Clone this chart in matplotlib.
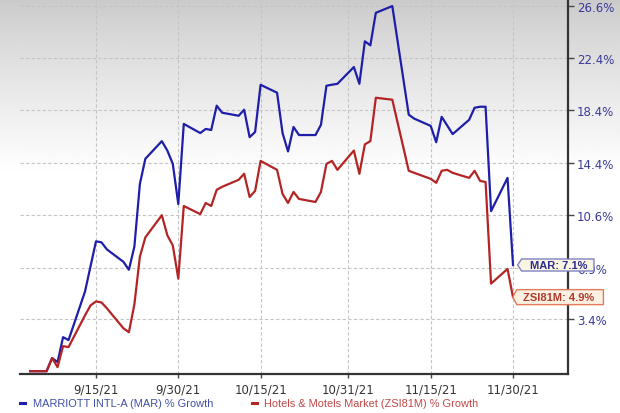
import numpy as np
import pandas as pd
import matplotlib
matplotlib.use("Agg")
import matplotlib.pyplot as plt
from matplotlib.path import Path
from matplotlib.lines import Line2D

# ---------------- data ----------------
mar_dates = ["2021-09-03", "2021-09-06", "2021-09-07", "2021-09-08", "2021-09-09", "2021-09-10",
             "2021-09-13", "2021-09-15", "2021-09-16", "2021-09-17", "2021-09-20", "2021-09-21",
             "2021-09-22", "2021-09-23", "2021-09-24", "2021-09-27", "2021-09-28", "2021-09-29",
             "2021-09-30", "2021-10-01", "2021-10-04", "2021-10-05", "2021-10-06", "2021-10-07",
             "2021-10-08", "2021-10-11", "2021-10-12", "2021-10-13", "2021-10-14", "2021-10-15",
             "2021-10-18", "2021-10-19", "2021-10-20", "2021-10-21", "2021-10-22", "2021-10-25",
             "2021-10-26", "2021-10-27", "2021-10-28", "2021-10-29", "2021-11-01", "2021-11-02",
             "2021-11-03", "2021-11-04", "2021-11-05", "2021-11-08", "2021-11-11", "2021-11-12",
             "2021-11-15", "2021-11-16", "2021-11-17", "2021-11-19", "2021-11-22", "2021-11-23",
             "2021-11-24", "2021-11-25", "2021-11-26", "2021-11-29", "2021-11-30"]
mar_growth = [0.0, 0.0, 0.85, 0.59, 2.22, 2.03,
              5.28, 8.75, 8.68, 8.18, 7.32, 6.77,
              8.39, 12.86, 14.71, 16.02, 15.32, 14.33,
              11.40, 17.32, 16.63, 16.94, 16.86, 18.71,
              18.17, 17.94, 18.40, 16.32, 16.71, 20.32,
              19.71, 16.63, 15.25, 17.09, 16.48, 16.48,
              17.25, 20.25, 20.33, 20.40, 21.71, 20.40,
              23.75, 23.43, 26.05, 26.60, 18.02, 17.72,
              17.17, 15.94, 17.86, 16.55, 17.63, 18.55,
              18.63, 18.63, 10.89, 13.30, 7.10]

zsi_dates = ["2021-09-03", "2021-09-06", "2021-09-07", "2021-09-08", "2021-09-09", "2021-09-10",
             "2021-09-13", "2021-09-14", "2021-09-15", "2021-09-16", "2021-09-17", "2021-09-20",
             "2021-09-21", "2021-09-22", "2021-09-23", "2021-09-24", "2021-09-27", "2021-09-28",
             "2021-09-29", "2021-09-30", "2021-10-01", "2021-10-04", "2021-10-05", "2021-10-06",
             "2021-10-07", "2021-10-08", "2021-10-11", "2021-10-12", "2021-10-13", "2021-10-14",
             "2021-10-15", "2021-10-18", "2021-10-19", "2021-10-20", "2021-10-21", "2021-10-22",
             "2021-10-25", "2021-10-26", "2021-10-27", "2021-10-28", "2021-10-29", "2021-11-01",
             "2021-11-02", "2021-11-03", "2021-11-04", "2021-11-05", "2021-11-08", "2021-11-11",
             "2021-11-12", "2021-11-15", "2021-11-16", "2021-11-17", "2021-11-18", "2021-11-19",
             "2021-11-22", "2021-11-23", "2021-11-24", "2021-11-25", "2021-11-26", "2021-11-29",
             "2021-11-30"]
zsi_growth = [0.0, 0.0, 0.85, 0.26, 1.63, 1.57,
              3.67, 4.34, 4.61, 4.54, 4.14, 2.81,
              2.55, 4.41, 7.68, 9.03, 10.60, 9.18,
              8.46, 6.16, 11.26, 10.68, 11.48, 11.26,
              12.43, 12.65, 13.16, 13.60, 11.91, 12.35,
              14.55, 13.89, 12.13, 11.48, 12.28, 11.77,
              11.55, 12.28, 14.33, 14.55, 13.89, 15.32,
              13.60, 15.78, 16.02, 19.32, 19.17, 13.82,
              13.67, 13.23, 12.94, 13.82, 13.89, 13.67,
              13.30, 13.82, 13.08, 13.00, 5.82, 6.83,
              4.90]

y_ticks = [3.4, 6.9, 10.6, 14.4, 18.4, 22.4, 26.6]
y_tick_labels = ["3.4%", "6.9%", "10.6%", "14.4%", "18.4%", "22.4%", "26.6%"]
x_ticks = ["2021-09-15", "2021-09-30", "2021-10-15", "2021-10-31", "2021-11-15", "2021-11-30"]
x_tick_labels = ["9/15/21", "9/30/21", "10/15/21", "10/31/21", "11/15/21", "11/30/21"]
series_names = ["MARRIOTT INTL-A (MAR) % Growth", "Hotels & Motels Market (ZSI81M) % Growth"]
end_labels = ["MAR: 7.1%", "ZSI81M: 4.9%"]

# ---------------- style ----------------
BLUE = "#1e1ea8"
RED = "#b32424"
W, H = 620, 414
AX_BOTTOM = 374.5  # pixel row of the x axis line

fig = plt.figure(figsize=(W / 100, H / 100), dpi=100)

# background gradient (gray at top fading to white)
bg = fig.add_axes([0, 0, 1, 1], zorder=-5)
rows = np.arange(H)
vals = np.clip(0.79 + 0.21 * (rows / 175.0) ** 0.85, 0, 1)
grad = np.repeat(vals[:, None], 2, axis=1)
bg.imshow(grad, cmap="gray", vmin=0, vmax=1, aspect="auto", extent=[0, 1, 0, 1],
          interpolation="bilinear")
bg.set_axis_off()

rect = [20 / W, (H - AX_BOTTOM) / H, 548 / W, AX_BOTTOM / H]
ax = fig.add_axes(rect)
ax.set_facecolor("none")

ax.set_yscale("function", functions=(lambda v: np.log1p(np.asarray(v) / 100.0),
                                     lambda v: np.expm1(np.asarray(v)) * 100.0))

md = pd.to_datetime(mar_dates)
zd = pd.to_datetime(zsi_dates)
ax.plot(md, mar_growth, color=BLUE, lw=1.6, solid_joinstyle="round", zorder=3)
ax.plot(zd, zsi_growth, color=RED, lw=1.6, solid_joinstyle="round", zorder=3)

ax.set_ylim(-0.15, 27.18)
ax.set_xlim(pd.Timestamp("2021-09-01 03:40"), pd.Timestamp("2021-12-10 00:30"))

ax.yaxis.tick_right()
ax.set_yticks(y_ticks)
ax.set_yticklabels(y_tick_labels)
ax.set_xticks(pd.to_datetime(x_ticks))
ax.set_xticklabels(x_tick_labels)
ax.minorticks_off()

ax.tick_params(axis="y", which="major", direction="out", length=4, width=1, color="#444444",
               labelsize=8.5, labelcolor="#3a3a9a", pad=2.5)
ax.tick_params(axis="x", which="major", direction="out", length=3, width=1, color="#444444",
               labelsize=8.5, labelcolor="#333333", pad=3.5)
for t in ax.get_xticklabels() + ax.get_yticklabels():
    t.set_fontfamily("DejaVu Sans")

for s in ["left", "top"]:
    ax.spines[s].set_visible(False)
for s in ["right", "bottom"]:
    ax.spines[s].set_color("#333333")
    ax.spines[s].set_linewidth(1.6)

ax.grid(True, which="major", color="#c4c4c4", linestyle=(0, (3, 2)), linewidth=0.8)
ax.set_axisbelow(True)

# overlay axes (drawn after the main axes) for the end-of-line tags
ov = fig.add_axes(rect, sharex=ax, sharey=ax, zorder=5)
ov.set_axis_off()
ov.patch.set_visible(False)


# end-of-line tag labels (pentagon with a left-pointing tip)
def make_tag(pad_left, pad_right, pad_y, tip):
    def tag_box(x0, y0, width, height, mutation_size):
        bx0 = x0 - pad_left
        bx1 = x0 + width + pad_right
        by0 = y0 - pad_y
        by1 = y0 + height + pad_y
        ym = (by0 + by1) / 2
        verts = [(bx0, by0), (bx1, by0), (bx1, by1), (bx0, by1), (bx0 - tip, ym), (bx0, by0)]
        codes = [Path.MOVETO, Path.LINETO, Path.LINETO, Path.LINETO, Path.LINETO, Path.CLOSEPOLY]
        return Path(verts, codes)
    return tag_box


ov.annotate(end_labels[0], xy=(md[-1], mar_growth[-1]), xytext=(12.3, 0), textcoords="offset points",
            ha="left", va="center", fontsize=8, fontweight="bold", color="#2c2c8c",
            family="Liberation Sans", annotation_clip=False, zorder=10,
            bbox=dict(boxstyle=make_tag(8.5, 6.5, 1.0, 4), fc="#faf4e2", ec="#7d82c0", lw=1.0))
ov.annotate(end_labels[1], xy=(zd[-1], zsi_growth[-1]), xytext=(7.4, 0), textcoords="offset points",
            ha="left", va="center", fontsize=8, fontweight="bold", color="#b03a2a",
            family="Liberation Sans", annotation_clip=False, zorder=10,
            bbox=dict(boxstyle=make_tag(6.5, 9.0, 2.5, 4), fc="#fbf0e2", ec="#e07a5a", lw=1.0))

# legend at the bottom
ly = 1 - 404 / H
fig.add_artist(Line2D([20 / W, 25 / W], [ly, ly], color=BLUE, lw=2.2))
fig.text(33 / W, ly, series_names[0], color="#4050a8", fontsize=7.9, family="Liberation Sans",
         va="center", ha="left")
fig.add_artist(Line2D([252 / W, 257 / W], [ly, ly], color=RED, lw=2.2))
fig.text(264 / W, ly, series_names[1], color="#c04848", fontsize=7.9, family="Liberation Sans",
         va="center", ha="left")

fig.savefig("out.png", dpi=100)
